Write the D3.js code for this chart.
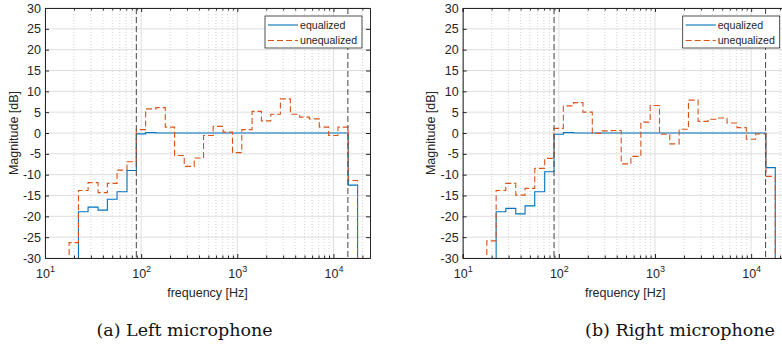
<!DOCTYPE html>
<html>
<head>
<meta charset="utf-8">
<script src="https://cdn.jsdelivr.net/npm/d3@7"></script>
<style>
  body { margin: 0; background: #fff; }
  svg { display: block; }
</style>
</head>
<body>
<div id="chart"></div>
<script>
// third-octave band centres [Hz]
var bands = [16, 20, 25, 31.5, 40, 50, 63, 80, 100, 125, 160, 200, 250, 315, 400, 500, 630, 800,
  1000, 1250, 1600, 2000, 2500, 3150, 4000, 5000, 6300, 8000, 10000, 12500, 16000, 20000];

// magnitudes [dB]; -40 = below the visible range
var leftEqualized = [-40, -40, -18.9, -17.8, -18.5, -15.9, -14.1, -9.0, -0.2, 0.1, 0, 0, 0, 0, 0, 0, 0, 0,
  0, 0, 0, 0, 0, 0, 0, 0, 0, 0, 0, 0, -12.5, -40];
var leftUnequalized = [-40, -26.3, -13.8, -11.9, -14.3, -12.1, -8.9, -6.9, 0.8, 5.8, 6.1, 1.4, -5.4, -8.0, -6.0, -0.6, 1.6, 0.2,
  -4.7, 0.8, 5.2, 2.9, 4.5, 8.2, 4.5, 3.8, 3.4, 1.4, -0.6, 1.4, -11.4, -40];
var rightEqualized = [-40, -40, -18.9, -18.1, -19.4, -17.5, -14.1, -9.3, -0.3, 0.1, 0, 0, 0, 0, 0, 0, 0, 0,
  0, 0, 0, 0, 0, 0, 0, 0, 0, 0, 0, 0, -8.3, -40];
var rightUnequalized = [-40, -25.9, -13.8, -12.1, -14.9, -13.3, -8.5, -6.1, 1.1, 6.5, 7.3, 5.0, -0.1, 0.5, 0.6, -7.4, -5.6, 2.6,
  6.6, -0.3, -2.6, 0.9, 7.9, 2.8, 3.3, 3.6, 2.4, 1.3, -1.5, -0.2, -10.4, -40];

// equalization band limits [Hz]
var cutoffs = [89.1, 14125];

var yTicks = [-30, -25, -20, -15, -10, -5, 0, 5, 10, 15, 20, 25, 30];
var xDecades = [10, 100, 1000, 10000];
var seriesNames = ["equalized", "unequalized"];
var captions = ["(a) Left microphone", "(b) Right microphone"];

var svgWidth = 782;
var svgHeight = 354;

var blue = "#0072bd";
var orange = "#d95319";
var axisColor = "#262626";

var svg = d3.select("#chart")
  .append("svg")
  .attr("width", svgWidth)
  .attr("height", svgHeight);

// build step points: lower band edge of every band, plus upper edge of the last
function stepPoints(values) {
  var pts = bands.map(function(c, i) { return [c / Math.pow(2, 1 / 6), values[i]]; });
  pts.push([bands[bands.length - 1] * Math.pow(2, 1 / 6), values[values.length - 1]]);
  return pts;
}

function drawPanel(opts) {
  var margin = { left: opts.left, top: 8 };
  var width = 325;
  var height = 250;

  var g = svg.append("g")
    .attr("transform", `translate(${margin.left}, ${margin.top})`);

  var x = d3.scaleLog().domain([10, 24000]).range([0, width]);
  var y = d3.scaleLinear().domain([-30, 30]).range([height, 0]);

  var clipId = "clip" + opts.id;
  g.append("clipPath").attr("id", clipId)
    .append("rect").attr("width", width).attr("height", height);

  // minor grid (dotted)
  var minor = [];
  xDecades.forEach(function(d) {
    for (var k = 2; k <= 9; k++) if (d * k <= 24000) minor.push(d * k);
  });
  g.append("g").selectAll("line").data(minor).enter().append("line")
    .attr("x1", d => x(d)).attr("x2", d => x(d))
    .attr("y1", 0).attr("y2", height)
    .attr("stroke", "#c8c8c8").attr("stroke-width", 0.8)
    .attr("stroke-dasharray", "1,2");

  // major grid
  g.append("g").selectAll("line").data(yTicks).enter().append("line")
    .attr("x1", 0).attr("x2", width)
    .attr("y1", d => y(d)).attr("y2", d => y(d))
    .attr("stroke", "#dedede").attr("stroke-width", 1);
  g.append("g").selectAll("line").data(xDecades).enter().append("line")
    .attr("x1", d => x(d)).attr("x2", d => x(d))
    .attr("y1", 0).attr("y2", height)
    .attr("stroke", "#dedede").attr("stroke-width", 1);

  var line = d3.line()
    .x(d => x(d[0]))
    .y(d => y(d[1]))
    .curve(d3.curveStepAfter);

  var plot = g.append("g").attr("clip-path", `url(#${clipId})`);

  plot.append("path")
    .datum(stepPoints(opts.eq))
    .attr("fill", "none")
    .attr("stroke", blue)
    .attr("stroke-width", 1.1)
    .attr("d", line);

  plot.append("path")
    .datum(stepPoints(opts.uneq))
    .attr("fill", "none")
    .attr("stroke", orange)
    .attr("stroke-width", 1.1)
    .attr("stroke-dasharray", "6,3")
    .attr("d", line);

  // band limits
  plot.selectAll(".cut").data(cutoffs).enter().append("line")
    .attr("class", "cut")
    .attr("x1", d => x(d)).attr("x2", d => x(d))
    .attr("y1", 0).attr("y2", height)
    .attr("stroke", "#555")
    .attr("stroke-width", 1.1)
    .attr("stroke-dasharray", "6,3");

  // axes (ticks inward on all four sides)
  var font = "'Liberation Sans', Arial, sans-serif";

  g.append("g")
    .attr("transform", `translate(0, ${height})`)
    .call(d3.axisBottom(x).tickValues(minor).tickSize(-2.5).tickFormat(""))
    .call(a => a.select(".domain").remove())
    .selectAll("line").attr("stroke", axisColor);
  g.append("g")
    .call(d3.axisTop(x).tickValues(minor).tickSize(-2.5).tickFormat(""))
    .call(a => a.select(".domain").remove())
    .selectAll("line").attr("stroke", axisColor);

  var bottom = g.append("g")
    .attr("transform", `translate(0, ${height})`)
    .call(d3.axisBottom(x).tickValues(xDecades).tickSize(-4).tickPadding(8).tickFormat(""));
  bottom.select(".domain").attr("stroke", axisColor);
  bottom.selectAll("line").attr("stroke", axisColor);
  bottom.selectAll(".tick").append("text")
    .attr("y", 19.5)
    .attr("fill", axisColor)
    .attr("font-family", font)
    .attr("font-size", 12.5)
    .attr("text-anchor", "middle")
    .each(function(d) {
      var t = d3.select(this);
      t.append("tspan").text("10");
      t.append("tspan").attr("dy", -5.5).attr("font-size", 9).text(Math.round(Math.log10(d)));
    });

  var top = g.append("g")
    .call(d3.axisTop(x).tickValues(xDecades).tickSize(-4).tickFormat(""));
  top.select(".domain").attr("stroke", axisColor);
  top.selectAll("line").attr("stroke", axisColor);

  var left = g.append("g")
    .call(d3.axisLeft(y).tickValues(yTicks).tickSize(-4).tickPadding(4));
  left.select(".domain").attr("stroke", axisColor);
  left.selectAll("line").attr("stroke", axisColor);
  left.selectAll("text")
    .attr("fill", axisColor)
    .attr("font-family", font)
    .attr("font-size", 12.5)
    .text(d => d < 0 ? "-" + Math.abs(d) : d);

  var right = g.append("g")
    .attr("transform", `translate(${width}, 0)`)
    .call(d3.axisRight(y).tickValues(yTicks).tickSize(-4).tickFormat(""));
  right.select(".domain").attr("stroke", axisColor);
  right.selectAll("line").attr("stroke", axisColor);

  // axis labels
  g.append("text")
    .attr("x", width / 2)
    .attr("y", 288.5)
    .attr("text-anchor", "middle")
    .attr("font-family", font)
    .attr("font-size", 12.5)
    .attr("fill", axisColor)
    .text("frequency [Hz]");

  g.append("text")
    .attr("transform", `translate(-27.5, ${height / 2}) rotate(-90)`)
    .attr("text-anchor", "middle")
    .attr("font-family", font)
    .attr("font-size", 12.5)
    .attr("fill", axisColor)
    .text("Magnitude [dB]");

  // legend
  var lw = 97, lh = 32;
  var legend = g.append("g")
    .attr("transform", `translate(${width - 8 - lw}, 8)`);
  legend.append("rect")
    .attr("width", lw).attr("height", lh)
    .attr("fill", "#fff")
    .attr("stroke", axisColor)
    .attr("stroke-width", 0.8);
  seriesNames.forEach(function(name, i) {
    var yy = 9 + i * 15.5;
    legend.append("line")
      .attr("x1", 3).attr("x2", 33)
      .attr("y1", yy).attr("y2", yy)
      .attr("stroke", i === 0 ? blue : orange)
      .attr("stroke-width", 1.1)
      .attr("stroke-dasharray", i === 0 ? null : "6,3");
    legend.append("text")
      .attr("x", 35)
      .attr("y", yy + 3.8)
      .attr("font-family", font)
      .attr("font-size", 10.6)
      .attr("fill", axisColor)
      .text(name);
  });
}

drawPanel({ id: 0, left: 45, eq: leftEqualized, uneq: leftUnequalized });
drawPanel({ id: 1, left: 462.7, eq: rightEqualized, uneq: rightUnequalized });

// sub-figure captions
svg.selectAll(".caption").data(captions).enter().append("text")
  .attr("class", "caption")
  .attr("x", (d, i) => i === 0 ? 184.5 : 680)
  .attr("y", 336)
  .attr("text-anchor", "middle")
  .attr("font-family", "'DejaVu Serif', 'Liberation Serif', serif")
  .attr("font-size", 17.5)
  .attr("fill", "#111")
  .text(d => d);
</script>
</body>
</html>
